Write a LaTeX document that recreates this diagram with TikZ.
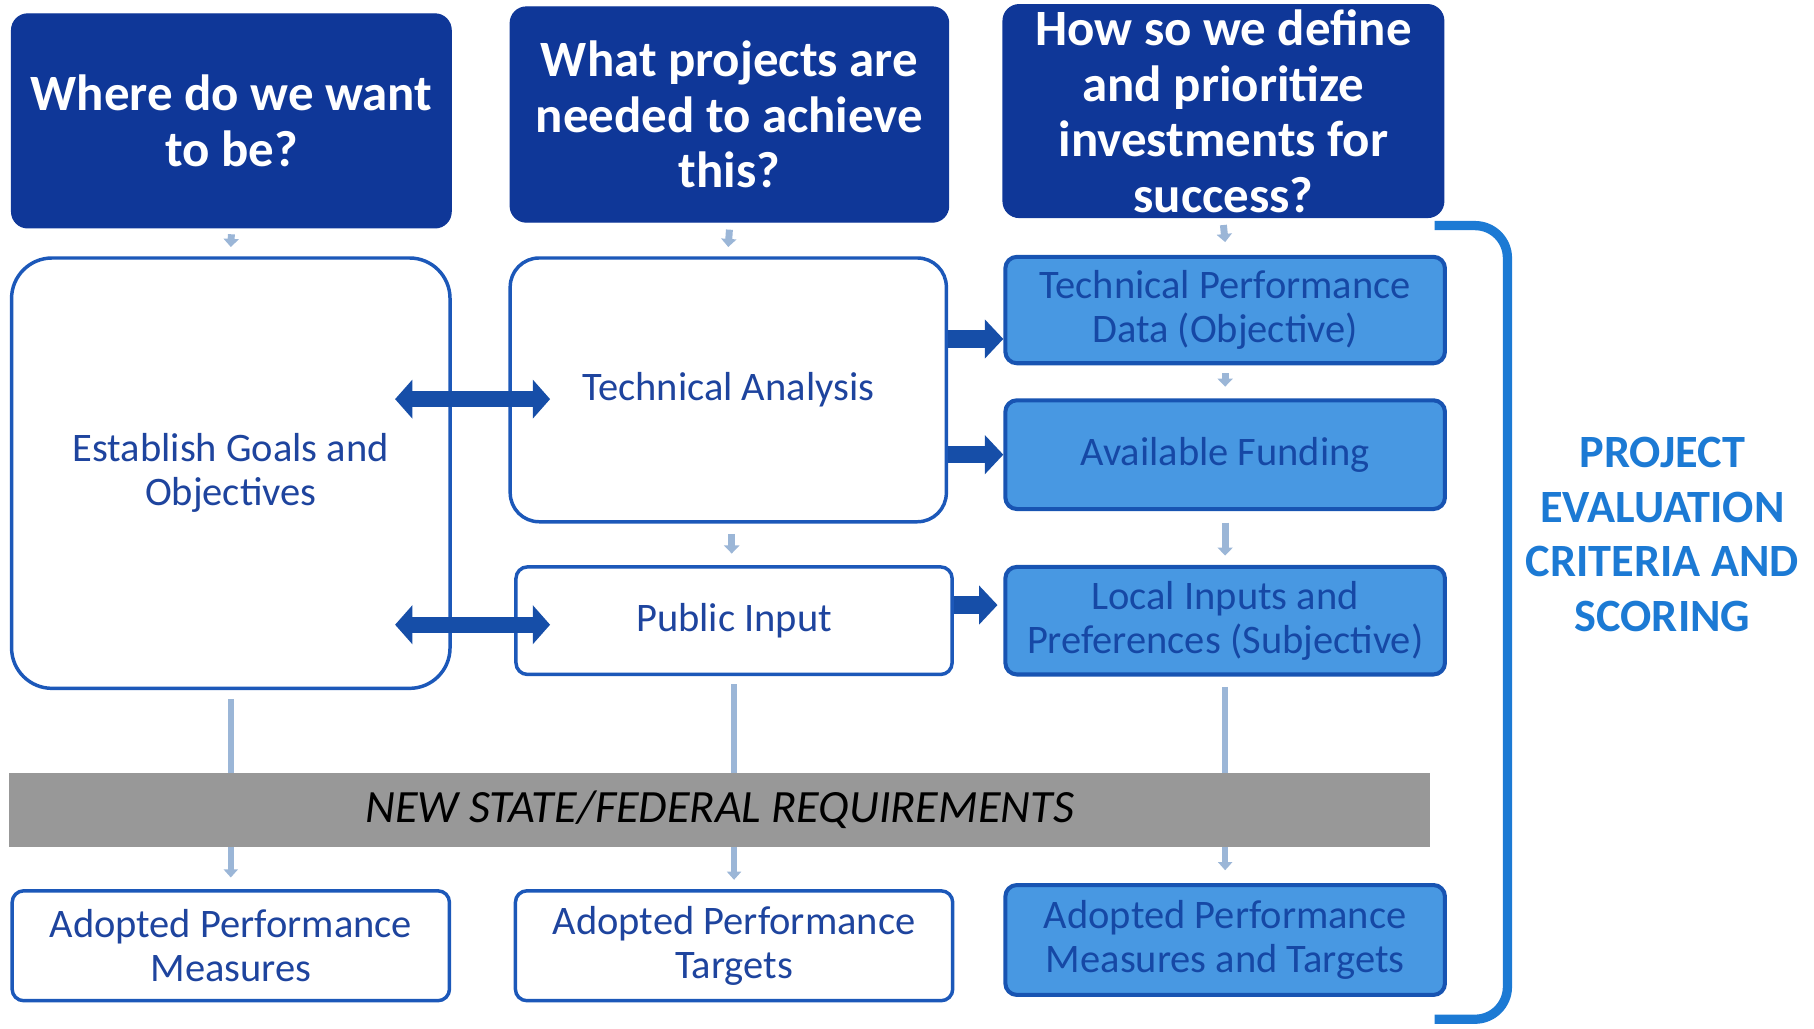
\documentclass[tikz,border=0pt]{standalone}
\usepackage{fontspec}
\setmainfont{Carlito}
\usetikzlibrary{arrows.meta,calc}
\definecolor{hdr}{RGB}{15,55,152}
\definecolor{wborder}{RGB}{28,88,185}
\definecolor{wtext}{RGB}{30,68,158}
\definecolor{lfill}{RGB}{72,152,226}
\definecolor{lborder}{RGB}{24,84,178}
\definecolor{ltext}{RGB}{22,72,165}
\definecolor{bigarrow}{RGB}{22,78,168}
\definecolor{smallarrow}{RGB}{155,182,215}
\definecolor{bargray}{RGB}{152,152,152}
\definecolor{brk}{RGB}{28,122,212}
\begin{document}
\begin{tikzpicture}[x=1pt,y=-1pt,
  hdrbox/.style={rectangle, rounded corners=14pt, fill=hdr, draw=hdr, line width=1pt, text=white,
    font=\bfseries\fontsize{44}{48}\selectfont, align=center, inner sep=0pt},
  wbox/.style={rectangle, draw=wborder, line width=3pt, fill=white, text=wtext,
    font=\fontsize{35}{38}\selectfont, align=center, inner sep=0pt},
  lbox/.style={rectangle, rounded corners=10pt, draw=lborder, line width=3.5pt, fill=lfill, text=ltext,
    font=\fontsize{35}{38}\selectfont, align=center, inner sep=0pt},
  sarr/.style={draw=smallarrow, line width=6pt, -{Triangle[length=7pt,width=13pt]}},
  lline/.style={draw=smallarrow, line width=5pt},
  larr/.style={draw=smallarrow, line width=5pt, -{Triangle[length=7pt,width=12pt]}},
  dblarr/.style={draw=bigarrow, line width=14pt, {Triangle[length=15pt,width=33pt]}-{Triangle[length=15pt,width=33pt]}},
  rarr/.style={draw=bigarrow, line width=15pt, -{Triangle[length=16pt,width=33pt]}}
]
\useasboundingbox (0,0) rectangle (1568,889);

% headers
\node[hdrbox, minimum width=380pt, minimum height=185pt] (h1) at (200,104.5) {Where do we want\\to be?};
\node[hdrbox, minimum width=379pt, minimum height=186pt] (h2) at (630.5,99) {What projects are\\needed to achieve\\this?};
\node[hdrbox, minimum width=381pt, minimum height=184pt] (h3) at (1057.5,96) {How so we define\\and prioritize\\investments for\\success?};

% white boxes
\node[wbox, rounded corners=35pt, minimum width=379pt, minimum height=372pt] (goals) at (199.5,409) {Establish Goals and\\Objectives};
\node[wbox, rounded corners=25pt, minimum width=377pt, minimum height=228pt] (ta) at (629.5,337) {Technical Analysis};
\node[wbox, rounded corners=10pt, minimum width=377pt, minimum height=93pt] (pi) at (634.5,536.5) {Public Input};
\node[wbox, rounded corners=10pt, minimum width=378pt, minimum height=95pt] (am) at (199.5,817.5) {Adopted Performance\\Measures};
\node[wbox, rounded corners=10pt, minimum width=378pt, minimum height=95pt] (at) at (634.5,817.5) {Adopted Performance\\Targets};

% light boxes
\node[lbox, minimum width=380pt, minimum height=92pt] (tpd) at (1059,268) {Technical Performance\\Data (Objective)};
\node[lbox, minimum width=380pt, minimum height=94pt] (af) at (1059,393) {Available Funding};
\node[lbox, minimum width=380pt, minimum height=93pt] (lip) at (1059,536.5) {Local Inputs and\\Preferences (Subjective)};
\node[lbox, minimum width=380pt, minimum height=95pt] (amt) at (1059,812.5) {Adopted Performance\\Measures and Targets};

% gray bar
\node[rectangle, fill=bargray, minimum width=1228pt, minimum height=64pt, inner sep=0pt,
  font=\itshape\fontsize{40}{44}\selectfont, text=black] (bar) at (622,700) {NEW STATE/FEDERAL REQUIREMENTS};

% side label
\node[text=brk, font=\bfseries\fontsize{40}{47}\selectfont, align=center, inner sep=0pt] (side) at (1437,462)
  {PROJECT\\EVALUATION\\CRITERIA AND\\SCORING};

% bracket
\draw[brk, line width=8pt, rounded corners=28pt] (1240,195) -- (1303,195) -- (1303,881) -- (1240,881);

% small arrows
\draw[sarr] ([yshift=-5pt]h1.south) -- ([yshift=8pt]goals.north);
\draw[sarr] ([yshift=-6pt]h2.south) -- ([yshift=8pt]ta.north);
\draw[sarr] ([yshift=-6pt]h3.south) -- ([yshift=11pt]tpd.north);
\draw[sarr] ([yshift=-7pt]tpd.south) -- ([yshift=10pt]af.north);
\draw[sarr] ([yshift=-10pt]af.south) -- ([yshift=8pt]lip.north);
\draw[sarr] ($(ta.south)+(3,9)$) -- ($(pi.north)+(-2,-10)$);

% long connectors through the bar
\draw[lline] ([yshift=-8pt]goals.south) -- (goals.south |- bar.north);
\draw[larr] (goals.south |- bar.south) -- ($(goals.south |- am.north)+(0,-10)$);
\draw[lline] ([yshift=-7pt]pi.south) -- (pi.south |- bar.north);
\draw[larr] (pi.south |- bar.south) -- ($(pi.south |- at.north)+(0,-8)$);
\draw[lline] ([yshift=-9pt]lip.south) -- (lip.south |- bar.north);
\draw[larr] (lip.south |- bar.south) -- ([yshift=11pt]amt.north);

% double arrows
\draw[dblarr] ($(goals.east)+(-49,-64)$) -- ($(ta.west)+(36,8)$);
\draw[dblarr] ($(goals.east)+(-49,131)$) -- ($(pi.west)+(31,3.5)$);

% right arrows
\draw[rarr] ($(ta.east)+(0,-44)$) -- ($(tpd.west)+(0,25)$);
\draw[rarr] ($(ta.east)+(0,56)$) -- (af.west);
\draw[rarr] ($(pi.east)+(0,-13.5)$) -- ($(lip.west)+(-5,-13.5)$);
\end{tikzpicture}
\end{document}
